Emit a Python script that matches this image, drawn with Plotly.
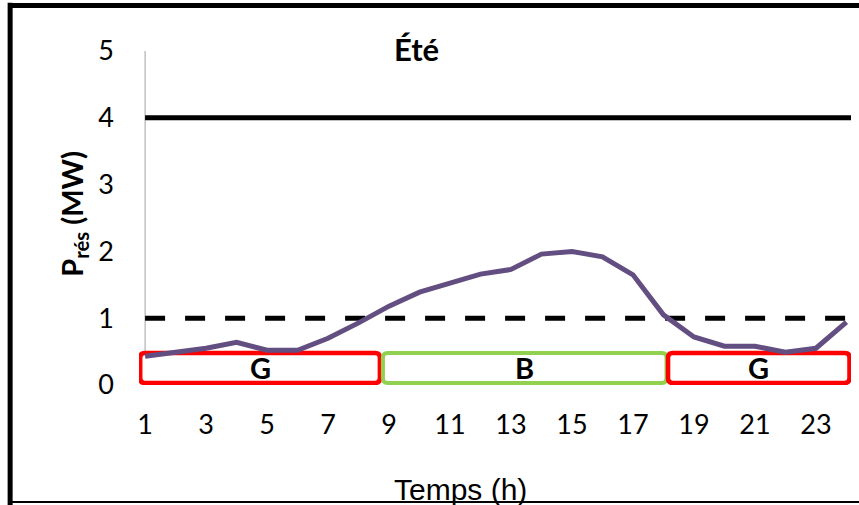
import plotly.graph_objects as go

# Residual power over the day (summer)
hours = list(range(1, 25))
p_res = [0.43, 0.49, 0.55, 0.64, 0.52, 0.52, 0.70, 0.93, 1.18, 1.39, 1.53, 1.66,
         1.73, 1.96, 2.00, 1.92, 1.65, 1.05, 0.72, 0.58, 0.58, 0.49, 0.55, 0.94]
p_max = 4
p_threshold = 1
x_ticks = list(range(1, 24, 2))
y_ticks = [0, 1, 2, 3, 4, 5]

# Periods shown as boxes under the curve
period_labels = ["G", "B", "G"]
period_start = [0.84, 8.8, 18.15]
period_end = [8.7, 18.1, 24.1]
period_colors = ["#FF0000", "#92D050", "#FF0000"]
box_bottom, box_top = 0.03, 0.48


def rounded_box(x0, x1, y0, y1, rx=0.15, ry=0.07):
    return (f"M {x0+rx},{y0} L {x1-rx},{y0} Q {x1},{y0} {x1},{y0+ry} "
            f"L {x1},{y1-ry} Q {x1},{y1} {x1-rx},{y1} L {x0+rx},{y1} "
            f"Q {x0},{y1} {x0},{y1-ry} L {x0},{y0+ry} Q {x0},{y0} {x0+rx},{y0} Z")


fig = go.Figure()
fig.add_trace(go.Scatter(
    x=[1, 24.15], y=[p_max, p_max], mode='lines',
    line=dict(color='black', width=5), hoverinfo='skip'))
fig.add_trace(go.Scatter(
    x=[1, 24.15], y=[p_threshold, p_threshold], mode='lines',
    line=dict(color='black', width=5, dash='20px,20px'), hoverinfo='skip'))
fig.add_trace(go.Scatter(
    x=hours, y=p_res, mode='lines',
    line=dict(color='#634E82', width=5), hoverinfo='skip'))

shapes = [dict(type='line', xref='x', yref='y', x0=1, x1=1, y0=0, y1=5,
               line=dict(color='#A0A0A0', width=1), layer='below')]
annotations = []
for lab, s, e, c in zip(period_labels, period_start, period_end, period_colors):
    shapes.append(dict(type='path', xref='x', yref='y',
                       path=rounded_box(s, e, box_bottom, box_top),
                       line=dict(color=c, width=4.5 if c == "#FF0000" else 4),
                       fillcolor='white', layer='below'))
    annotations.append(dict(x=(s + e) / 2, y=(box_bottom + box_top) / 2, xref='x', yref='y',
                            xanchor='center', yanchor='middle',
                            text=f"<b>{lab}</b>", showarrow=False,
                            font=dict(family='Lato', size=29, color='black')))

# outer frame
shapes += [
    dict(type='line', xref='paper', yref='paper', x0=-0.181, x1=-0.181, y0=-0.34, y1=1.08,
         line=dict(color='black', width=5)),
    dict(type='line', xref='paper', yref='paper', x0=-0.181, x1=1.02, y0=1.072, y1=1.072,
         line=dict(color='black', width=5)),
    dict(type='line', xref='paper', yref='paper', x0=-0.181, x1=1.02, y0=-0.3305, y1=-0.3305,
         line=dict(color='black', width=2)),
]

annotations += [
    dict(x=0.39, y=0.95, xref='paper', yref='paper', text="<b>Été</b>", showarrow=False,
         xanchor='center', yanchor='middle',
         font=dict(family='Lato', size=31, color='black')),
    dict(x=-0.092, y=0.485, xref='paper', yref='paper', text="<b>P<sub>rés</sub> (MW)</b>",
         textangle=-90, showarrow=False, xanchor='center', yanchor='middle',
         font=dict(family='Lato', size=29, color='black')),
    dict(x=0.452, y=-0.295, xref='paper', yref='paper', text="Temps (h)", showarrow=False,
         xanchor='center', yanchor='middle',
         font=dict(family='Liberation Sans', size=30, color='black')),
]

fig.update_layout(
    width=859, height=505,
    margin=dict(l=139, r=8, t=31, b=120),
    paper_bgcolor='white', plot_bgcolor='white',
    showlegend=False,
    shapes=shapes, annotations=annotations,
    font=dict(family='Lato', size=27, color='black'),
    xaxis=dict(range=[0.8, 24.15], tickvals=x_ticks, ticktext=[str(v) for v in x_ticks],
               showgrid=False, zeroline=False, showline=False, ticks='',
               ticklabelstandoff=21),
    yaxis=dict(range=[0, 5.3], tickvals=y_ticks, showgrid=False, zeroline=False,
               showline=False, ticks='', ticklabelstandoff=24),
)

fig.write_html("out.html", config={'displayModeBar': False},
               post_script="document.body.style.margin='0';")
